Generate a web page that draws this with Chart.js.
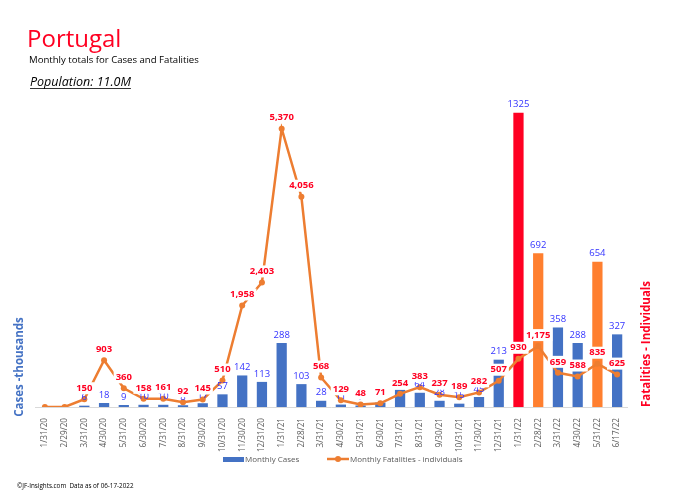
<!DOCTYPE html>
<html>
<head>
<meta charset="utf-8">
<script src="https://cdn.jsdelivr.net/npm/chart.js@4.4.0/dist/chart.umd.min.js"></script>
<style>
  html, body { margin: 0; padding: 0; background: #fff; }
  #wrap { width: 684px; height: 496px; position: relative; }
</style>
</head>
<body>
<div id="wrap"><canvas id="chart"></canvas></div>
<script>
// month end dates (x axis)
const months = ['1/31/20', '2/29/20', '3/31/20', '4/30/20', '5/31/20', '6/30/20', '7/31/20', '8/31/20', '9/30/20',
    '10/31/20', '11/30/20', '12/31/20', '1/31/21', '2/28/21', '3/31/21', '4/30/21', '5/31/21', '6/30/21',
    '7/31/21', '8/31/21', '9/30/21', '10/31/21', '11/30/21', '12/31/21', '1/31/22', '2/28/22', '3/31/22',
    '4/30/22', '5/31/22', '6/17/22']

// monthly cases, thousands
const monthlyCases = [0, 0, 6, 18, 9, 10, 10, 8, 17, 57, 142, 113, 288, 103, 28, 11, 7, 20,
    77, 64, 28, 15, 45, 213, 1325, 692, 358, 288, 654, 327]

// monthly fatalities, individuals
const monthlyFatalities = [0, 0, 150, 903, 360, 158, 161, 92, 145, 510, 1958, 2403, 5370, 4056, 568, 129, 48, 71,
    254, 383, 237, 189, 282, 507, 930, 1175, 659, 588, 835, 625]

const BLUE = '#4472C4'
const LINE = '#ED7D31'
const RED = '#FF0022'
const FONT = '"Open Sans", "Noto Sans", sans-serif'

// bars that are highlighted in the original
function barColor(ctx) {
    const m = months[ctx.dataIndex]
    if (m === '1/31/22') return RED
    if (m === '2/28/22' || m === '5/31/22') return '#FF7F2F'
    return BLUE
}

const overlay = {
    id: 'overlay',
    afterDatasetsDraw(chart) {
        const ctx = chart.ctx
        ctx.save()
        ctx.textAlign = 'center'
        ctx.textBaseline = 'middle'

        // case labels above the bars
        ctx.font = '9.5px ' + FONT
        ctx.fillStyle = '#3333FF'
        chart.getDatasetMeta(0).data.forEach((bar, i) => {
            if (monthlyCases[i] < 1) return
            ctx.fillText(monthlyCases[i], bar.x, bar.y - 8)
        })

        // fatality labels with a white box
        ctx.font = 'bold 9.5px ' + FONT
        chart.getDatasetMeta(1).data.forEach((pt, i) => {
            if (!monthlyFatalities[i]) return
            const txt = monthlyFatalities[i].toLocaleString('en-US')
            const w = ctx.measureText(txt).width + 4
            const y = pt.y - 11
            ctx.fillStyle = '#fff'
            ctx.fillRect(pt.x - w / 2, y - 6, w, 12)
            ctx.fillStyle = '#FF0022'
            ctx.fillText(txt, pt.x, y)
        })
        ctx.restore()
    },
    afterDraw(chart) {
        const ctx = chart.ctx
        ctx.save()
        ctx.textBaseline = 'alphabetic'
        ctx.textAlign = 'left'

        // titles
        ctx.fillStyle = '#FF0022'
        ctx.font = '24px ' + FONT
        ctx.fillText('Portugal', 27, 47)
        ctx.fillStyle = '#000'
        ctx.font = '9.6px ' + FONT
        ctx.fillText('Monthly totals for Cases and Fatalities', 29, 63)
        ctx.font = 'italic 12.5px ' + FONT
        const pop = 'Population: 11.0M'
        ctx.fillText(pop, 30, 86)
        const pw = ctx.measureText(pop).width
        ctx.fillRect(30, 88, pw, 0.8)

        // axis titles
        ctx.textAlign = 'center'
        ctx.textBaseline = 'middle'
        ctx.font = 'bold 11.5px ' + FONT
        ctx.fillStyle = BLUE
        ctx.translate(20, 367)
        ctx.rotate(-Math.PI / 2)
        ctx.fillText('Cases -thousands', 0, 0)
        ctx.setTransform(1, 0, 0, 1, 0, 0)
        ctx.scale(chart.currentDevicePixelRatio, chart.currentDevicePixelRatio)
        ctx.fillStyle = '#FF0022'
        ctx.translate(647, 344)
        ctx.rotate(-Math.PI / 2)
        ctx.fillText('Fatalities - Individuals', 0, 0)
        ctx.setTransform(1, 0, 0, 1, 0, 0)
        ctx.scale(chart.currentDevicePixelRatio, chart.currentDevicePixelRatio)

        // legend
        ctx.textAlign = 'left'
        ctx.font = '8px ' + FONT
        ctx.fillStyle = BLUE
        ctx.fillRect(223, 457, 21, 5)
        ctx.fillStyle = '#595959'
        ctx.fillText('Monthly Cases', 245, 459.5)
        ctx.strokeStyle = LINE
        ctx.lineWidth = 2.5
        ctx.beginPath()
        ctx.moveTo(327, 459)
        ctx.lineTo(349, 459)
        ctx.stroke()
        ctx.fillStyle = LINE
        ctx.beginPath()
        ctx.arc(338, 459, 3, 0, Math.PI * 2)
        ctx.fill()
        ctx.fillStyle = '#595959'
        ctx.fillText('Monthly Fatalities - individuals', 350, 459.5)

        // footer
        ctx.fillStyle = '#000'
        ctx.font = '6.3px ' + FONT
        ctx.fillText('\u00A9JF-Insights.com  Data as of 06-17-2022', 17, 486)
        ctx.restore()
    }
}

const chart = new Chart(document.getElementById('chart'), {
    type: 'bar',
    data: {
        labels: months,
        datasets: [
            {
                label: 'Monthly Cases',
                data: monthlyCases,
                yAxisID: 'y',
                backgroundColor: barColor,
                barPercentage: 0.52,
                categoryPercentage: 1,
                order: 2
            },
            {
                type: 'line',
                label: 'Monthly Fatalities - individuals',
                data: monthlyFatalities,
                yAxisID: 'y1',
                borderColor: LINE,
                backgroundColor: LINE,
                borderWidth: 2.5,
                pointRadius: 3,
                pointBackgroundColor: LINE,
                pointBorderWidth: 0,
                tension: 0,
                order: 1
            }
        ]
    },
    options: {
        responsive: true,
        maintainAspectRatio: false,
        animation: false,
        layout: {
            padding: { top: 96, left: 35, right: 57, bottom: 39 }
        },
        scales: {
            x: {
                grid: { display: false },
                border: { display: true, color: '#D9D9D9', width: 1 },
                ticks: {
                    color: '#595959',
                    font: { size: 8.2, family: FONT },
                    minRotation: 90,
                    maxRotation: 90,
                    autoSkip: false,
                    padding: 3
                },
                afterFit(scale) {
                    scale.height = 50
                }
            },
            y: {
                display: false,
                min: 0,
                max: 1400
            },
            y1: {
                display: false,
                position: 'right',
                min: 0,
                max: 6000
            }
        },
        plugins: {
            legend: { display: false },
            tooltip: { enabled: false }
        }
    },
    plugins: [overlay]
})
</script>
</body>
</html>
